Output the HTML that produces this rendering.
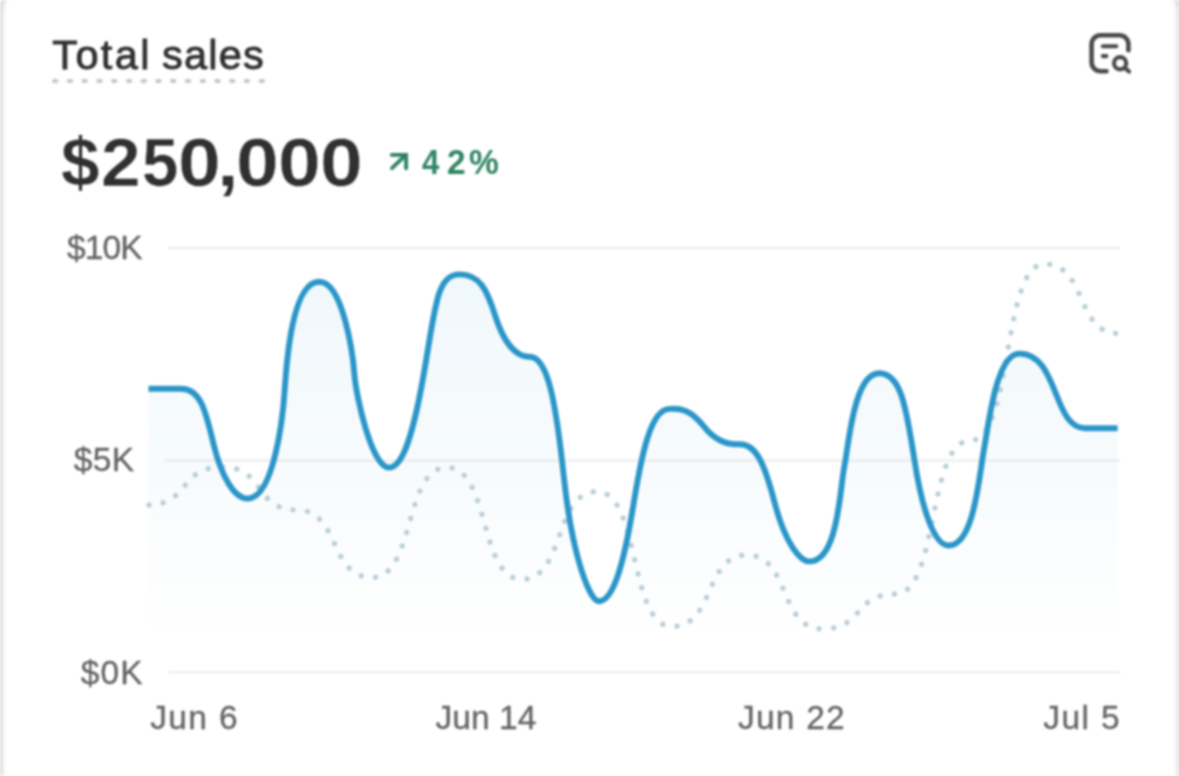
<!DOCTYPE html>
<html lang="en">
<head>
<meta charset="utf-8">
<title>Total sales</title>
<style>
  html, body { margin: 0; padding: 0; }
  body { width: 1179px; height: 776px; overflow: hidden; background: #fff; position: relative;
         font-family: "Liberation Sans", sans-serif; }
  .card { position: absolute; left: 0; top: 0; width: 1179px; height: 900px; box-sizing: border-box;
          background: #fff; overflow: hidden; filter: blur(0.8px); }
  .abs { position: absolute; white-space: nowrap; line-height: 1; }
  .title { color: #303030; -webkit-text-stroke: 0.9px #303030; }
  .title-ul { left: 51.6px; top: 78px; width: 214px; height: 6px;
      background-image: radial-gradient(ellipse 3.9px 2.7px at 3.2px 3px, #c6c6c6 0, #c6c6c6 62%, rgba(198,198,198,0) 100%);
      background-size: 14.76px 6px; background-repeat: repeat-x; }
  .big { color: #303030; -webkit-text-stroke: 0.5px #fff; }
  .pct { color: #2f8463; }
  .ax { color: #636363; -webkit-text-stroke: 0.3px #636363; }
</style>
</head>
<body>
<div class="card">
  <svg class="abs" style="left:0; top:0" width="1179" height="776" viewBox="0 0 1179 776" fill="none">
    <defs><filter id="eb" x="-2%" y="-2%" width="104%" height="104%"><feGaussianBlur stdDeviation="0.8"/></filter></defs>
    <g filter="url(#eb)">
      <path d="M0.500,790 L0.500,16 C0.500,8 1.800,3 4.500,-3" stroke="#f7f7f7" stroke-width="9"/>
      <path d="M0.500,790 L0.500,16 C0.500,8 1.800,3 4.500,-3" stroke="#dcdcdc" stroke-width="4"/>
      <path d="M1179.600,790 L1179.600,14 C1179.600,7 1178.600,3 1176,-3" stroke="#f8f8f8" stroke-width="11"/>
      <path d="M1179.600,790 L1179.600,14 C1179.600,7 1178.600,3 1176,-3" stroke="#dcdcdc" stroke-width="4.400"/>
    </g>
  </svg>

  <div class="abs title" style="left:52.27px; top:33.86px; font-size:41.5px; letter-spacing:2.36px; ">Total</div><div class="abs title" style="left:162.04px; top:33.86px; font-size:41.5px; letter-spacing:1.19px; ">sales</div>
  <div class="abs title-ul"></div>

  <svg class="abs" style="left:1086px; top:29px" width="50" height="50" viewBox="0 0 50 50" fill="none" stroke="#4a4a4a" stroke-width="4.6" stroke-linecap="round" stroke-linejoin="round">
    <path d="M20.5 42.2 H14.6 A9 9 0 0 1 5.6 33.2 V15.3 A9 9 0 0 1 14.600 6.300 H33.400 A9 9 0 0 1 42.400 15.300 V21.200"/>
    <path d="M16.800 17.300 H30.300" stroke-width="4.1"/>
    <path d="M16.800 27.100 H20.400" stroke-width="4.1"/>
    <circle cx="34.1" cy="34.3" r="6.1" stroke-width="4.2"/>
    <path d="M38.800 38.800 L43 42.500" stroke-width="4.2"/>
  </svg>

  <div class="abs big" style="left:0; top:128.22px; font-size:68px; font-weight:700; "><span style="position:absolute; left:60.89px; top:0; transform:scale(1.02,1); transform-origin:0 84.67%; display:inline-block">$</span><span style="position:absolute; left:100.92px; top:0; transform:scale(1.05,1); transform-origin:0 84.67%; display:inline-block">2</span><span style="position:absolute; left:141.69px; top:0; transform:scale(0.96,1); transform-origin:0 84.67%; display:inline-block">5</span><span style="position:absolute; left:178.36px; top:0; transform:scale(1.13,1); transform-origin:0 84.67%; display:inline-block">0</span><span style="position:absolute; left:216.69px; top:0; transform:scale(1.15,1); transform-origin:0 84.67%; display:inline-block">,</span><span style="position:absolute; left:236.06px; top:0; transform:scale(1.13,1); transform-origin:0 84.67%; display:inline-block">0</span><span style="position:absolute; left:278.36px; top:0; transform:scale(1.13,1); transform-origin:0 84.67%; display:inline-block">0</span><span style="position:absolute; left:319.96px; top:0; transform:scale(1.13,1); transform-origin:0 84.67%; display:inline-block">0</span></div>

  <svg class="abs" style="left:386px; top:150px" width="26" height="26" viewBox="0 0 26 26" fill="none" stroke="#2f8463" stroke-width="3.9" stroke-linecap="round" stroke-linejoin="miter">
    <path d="M6 18.200 L19 5.600"/>
    <path d="M5.800 4.900 H20.100 V18.200"/>
  </svg>
  <div class="abs pct" style="left:0; top:144.56px; font-size:35.6px; font-weight:700; "><span style="position:absolute; left:422.33px; top:0; transform:scale(0.88,1); transform-origin:0 84.67%; display:inline-block">4</span><span style="position:absolute; left:446.54px; top:0; transform:scale(0.94,1); transform-origin:0 84.67%; display:inline-block">2</span><span style="position:absolute; left:469.47px; top:0; transform:scale(0.94,1); transform-origin:0 84.67%; display:inline-block">%</span></div>

  <svg class="abs" style="left:0; top:0" width="1179" height="776" viewBox="0 0 1179 776">
    <defs>
      <linearGradient id="ag" x1="0" y1="270" x2="0" y2="640" gradientUnits="userSpaceOnUse">
        <stop offset="0" stop-color="#2a96c8" stop-opacity="0.068"/>
        <stop offset="0.55" stop-color="#2a96c8" stop-opacity="0.034"/>
        <stop offset="1" stop-color="#2a96c8" stop-opacity="0"/>
      </linearGradient>
    </defs>
    <g stroke="#efefef" stroke-width="2.6">
      <line x1="168" y1="248" x2="1120" y2="248"/>
      <line x1="164" y1="460.6" x2="1120" y2="460.6" stroke="#f1f1f1"/>
      <line x1="169" y1="672.2" x2="1120" y2="672.2"/>
    </g>
    <path d="M148.50,388.70 L181.00,388.70 C200.21,388.70 205.39,409.50 213.45,443.65 C221.51,477.80 234.88,498.60 247.40,498.60 C274.41,498.60 283.09,414.15 284.68,390.15 C286.27,366.15 291.52,281.70 319.20,281.70 C342.94,281.70 352.90,354.19 354.44,374.65 C355.98,395.11 371.61,467.60 389.00,467.60 C402.44,467.60 412.99,436.74 424.30,371.00 C435.61,305.26 436.82,274.40 459.60,274.40 C479.56,274.40 486.83,289.35 495.17,315.60 C503.51,341.85 515.58,356.80 529.50,356.80 C547.65,356.80 555.74,400.26 564.10,479.05 C572.46,557.84 590.03,601.30 598.70,601.30 C614.78,601.30 625.20,555.46 633.35,505.10 C641.51,454.74 650.68,408.90 669.50,408.90 C676.63,408.90 687.85,406.24 704.01,426.55 C720.18,446.86 736.47,444.20 740.00,444.20 C755.56,444.20 763.98,461.66 774.65,502.80 C785.32,543.94 800.48,561.40 809.30,561.40 C838.08,561.40 839.76,489.65 844.20,467.30 C848.64,444.95 853.85,373.20 879.10,373.20 C900.17,373.20 905.80,403.84 914.33,459.35 C922.85,514.86 935.46,545.50 948.60,545.50 C973.85,545.50 978.83,478.15 983.95,449.55 C989.07,420.95 996.68,353.60 1019.30,353.60 C1058.66,353.60 1052.74,428.30 1085.00,428.30 L1117.60,428.30 L1117.6,672 L148.5,672 Z" fill="url(#ag)"/>
    <path d="M147.00,505.00 C190.50,505.00 178.50,467.00 222.00,467.00 C265.50,467.00 253.50,510.00 297.00,510.00 C340.50,510.00 328.50,577.50 372.00,577.50 C415.50,577.50 403.50,467.50 447.00,467.50 C490.50,467.50 478.50,579.30 522.00,579.30 C565.50,579.30 553.50,491.60 597.00,491.60 C640.50,491.60 628.50,626.50 672.00,626.50 C715.50,626.50 703.50,555.00 747.00,555.00 C790.50,555.00 778.50,628.90 822.00,628.90 C864.63,628.90 852.87,594.00 895.50,594.00 C939.00,594.00 927.00,440.50 970.50,440.50 C1013.42,440.50 1001.58,264.00 1044.50,264.00 C1087.30,264.00 1075.50,333.50 1118.30,333.50" fill="none" stroke="#b9ced8" stroke-width="5.3" stroke-linecap="round" stroke-dasharray="0.1 14.3" stroke-dashoffset="12.6"/>
    <path d="M148.50,388.70 L181.00,388.70 C200.21,388.70 205.39,409.50 213.45,443.65 C221.51,477.80 234.88,498.60 247.40,498.60 C274.41,498.60 283.09,414.15 284.68,390.15 C286.27,366.15 291.52,281.70 319.20,281.70 C342.94,281.70 352.90,354.19 354.44,374.65 C355.98,395.11 371.61,467.60 389.00,467.60 C402.44,467.60 412.99,436.74 424.30,371.00 C435.61,305.26 436.82,274.40 459.60,274.40 C479.56,274.40 486.83,289.35 495.17,315.60 C503.51,341.85 515.58,356.80 529.50,356.80 C547.65,356.80 555.74,400.26 564.10,479.05 C572.46,557.84 590.03,601.30 598.70,601.30 C614.78,601.30 625.20,555.46 633.35,505.10 C641.51,454.74 650.68,408.90 669.50,408.90 C676.63,408.90 687.85,406.24 704.01,426.55 C720.18,446.86 736.47,444.20 740.00,444.20 C755.56,444.20 763.98,461.66 774.65,502.80 C785.32,543.94 800.48,561.40 809.30,561.40 C838.08,561.40 839.76,489.65 844.20,467.30 C848.64,444.95 853.85,373.20 879.10,373.20 C900.17,373.20 905.80,403.84 914.33,459.35 C922.85,514.86 935.46,545.50 948.60,545.50 C973.85,545.50 978.83,478.15 983.95,449.55 C989.07,420.95 996.68,353.60 1019.30,353.60 C1058.66,353.60 1052.74,428.30 1085.00,428.30 L1117.60,428.30" fill="none" stroke="#2a96c8" stroke-width="5.9" stroke-linecap="butt" stroke-linejoin="round"/>
  </svg>

  <div class="abs ax" style="left:67.04px; top:231.24px; font-size:33.5px; letter-spacing:-0.87px; ">$10K</div>
  <div class="abs ax" style="left:73.84px; top:443.04px; font-size:33.5px; letter-spacing:0.36px; ">$5K</div>
  <div class="abs ax" style="left:80.64px; top:655.94px; font-size:33.5px; letter-spacing:1.21px; ">$0K</div>
  <div class="abs ax" style="left:150.18px; top:701.04px; font-size:33.5px; letter-spacing:1.39px; ">Jun 6</div>
  <div class="abs ax" style="left:435.38px; top:701.04px; font-size:33.5px; letter-spacing:0.08px; ">Jun 14</div>
  <div class="abs ax" style="left:737.98px; top:701.04px; font-size:33.5px; letter-spacing:1.22px; ">Jun 22</div>
  <div class="abs ax" style="left:1043.28px; top:701.04px; font-size:33.5px; letter-spacing:1.37px; ">Jul 5</div>
</div>
</body>
</html>
